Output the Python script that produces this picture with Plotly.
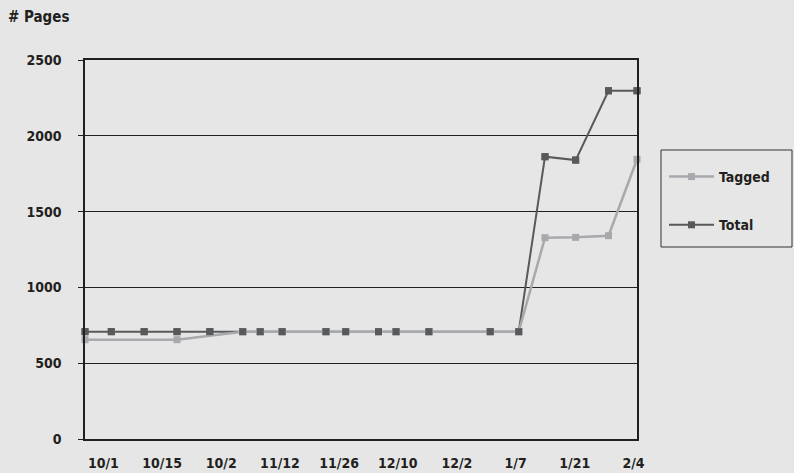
import plotly.graph_objects as go

# data (x = days since first tick)
days = [0, 6, 13.5, 21, 28.5, 36, 40, 45, 55, 59.5, 67, 71, 78.5, 92.5, 99, 105, 112, 119.5, 126]
total = [708, 708, 708, 708, 708, 708, 708, 708, 708, 708, 708, 708, 708, 708, 708, 1862, 1840, 2297, 2297]
tagged = [655, None, None, 655, None, 708, 708, 708, 708, 708, 708, 708, 708, 708, 708, 1328, 1330, 1341, 1845]
tick_days = [4.2, 17.6, 31.1, 44.5, 58.0, 71.4, 84.9, 98.3, 111.8, 125.2]
tick_labels = ["10/1", "10/15", "10/2", "11/12", "11/26", "12/10", "12/2", "1/7", "1/21", "2/4"]
y_ticks = [0, 500, 1000, 1500, 2000, 2500]

FONT = "DejaVu Sans Condensed, Liberation Sans Narrow, Arial Narrow, sans-serif"
BG = "#e6e6e6"
TXT = "#231f20"
C_TOTAL = "#58595b"
C_TAG = "#a7a9ac"

fig = go.Figure()
fig.add_trace(go.Scatter(x=days, y=total, name="Total", mode="lines+markers",
                         line=dict(color=C_TOTAL, width=2),
                         marker=dict(symbol="square", size=7, color=C_TOTAL),
                         legendrank=2, legendgroup="b", cliponaxis=False))
fig.add_trace(go.Scatter(x=days, y=tagged, name="Tagged", mode="lines+markers",
                         line=dict(color=C_TAG, width=2.5), connectgaps=True,
                         marker=dict(symbol="square", size=7, color=C_TAG),
                         legendrank=1, legendgroup="a", cliponaxis=False))
fig.add_trace(go.Scatter(x=days, y=total, mode="markers", showlegend=False,
                         marker=dict(symbol="square", size=7, color=C_TOTAL),
                         cliponaxis=False, hoverinfo="skip"))

fig.update_layout(
    width=794, height=473,
    margin=dict(l=85, r=157, t=60, b=34, autoexpand=False),
    paper_bgcolor=BG, plot_bgcolor=BG,
    font=dict(family=FONT, size=14, color=TXT),
    title=dict(text="<b># Pages</b>", x=8/794, xanchor="left", xref="container",
               y=1 - 17/473, yanchor="middle", yref="container",
               font=dict(family=FONT, size=15, color=TXT)),
    legend=dict(x=(664 - 85) / 552, xanchor="left", y=(439 - 161) / 379, yanchor="top",
                bgcolor="rgba(0,0,0,0)", borderwidth=0, tracegroupgap=27,
                itemwidth=45, font=dict(family=FONT, size=14, color=TXT, weight="bold")),
    shapes=[dict(type="rect", xref="paper", yref="paper",
                 x0=(661 - 85) / 552, x1=(792 - 85) / 552,
                 y0=(439 - 247) / 379, y1=(439 - 150) / 379,
                 line=dict(color="#333333", width=1), fillcolor="rgba(0,0,0,0)")],
)
fig.update_xaxes(range=[0, 126], tickvals=tick_days, ticktext=tick_labels,
                 showgrid=False, zeroline=False, showline=True, linecolor=TXT,
                 linewidth=1.5, mirror=True, ticks="", ticklabelstandoff=10,
                 automargin=False,
                 tickfont=dict(family=FONT, size=14, color=TXT, weight="bold"))
fig.update_yaxes(range=[0, 2500], tickvals=y_ticks, showgrid=True, gridcolor=TXT,
                 gridwidth=1.2, zeroline=False, showline=True, linecolor=TXT,
                 linewidth=1.5, mirror=True, ticks="outside", ticklen=5, tickcolor=TXT,
                 ticklabelstandoff=14, automargin=False,
                 tickfont=dict(family=FONT, size=14, color=TXT, weight="bold"))

fig.write_html("out.html")
